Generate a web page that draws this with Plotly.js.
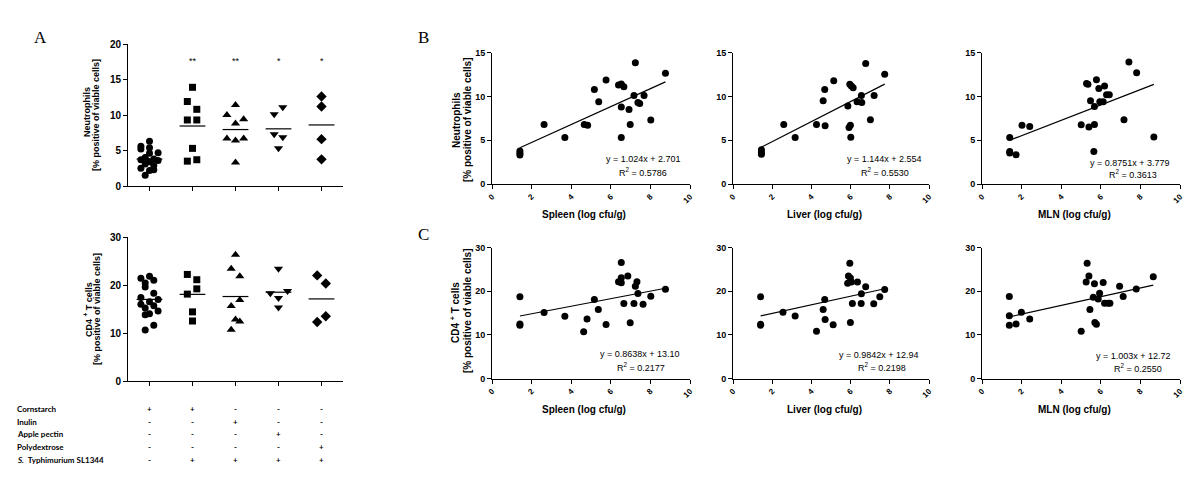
<!DOCTYPE html>
<html><head><meta charset="utf-8">
<script src="https://cdn.plot.ly/plotly-3.0.1.min.js"></script>
<style>body{margin:0;background:#fff}#chart{width:1200px;height:480px}</style>
</head><body><div id="chart"></div>
<script>
// ---------- Panel A : dot plots ----------
const groupSymbols = ['circle','square','triangle-up','triangle-down','diamond'];
const stars = ['', '**', '**', '*', '*'];

// Neutrophils (% positive of viable cells) per group, with horizontal jitter
const neuG1 = [6.3,5.6,5.4,5.2,4.7,4.6,4.0,3.8,3.7,3.6,3.4,3.1,2.9,2.5,2.3,2.2,1.5];
const neuG1Jit = [0,-0.2,0,-0.2,0.2,0,-0.1,0.1,-0.2,0.2,0,-0.1,0.1,-0.2,0.1,0,-0.1];
const neuG2 = [13.9,11.9,10.8,9.3,9.3,5.3,3.5,3.7];
const neuG2Jit = [0,-0.12,0.1,-0.12,0.1,0,-0.12,0.1];
const neuG3 = [11.4,10.0,8.8,9.4,6.7,6.4,6.7,3.3];
const neuG3Jit = [0,-0.2,0,0.19,-0.2,0,0.19,0];
const neuG4 = [11.1,10.1,7.3,6.85,5.3];
const neuG4Jit = [0.1,-0.1,-0.1,0.1,0];
const neuG5 = [12.6,11.2,6.6,3.75];
const neuG5Jit = [0,0,0,0];
const neuMeans = [3.8,8.45,7.95,8.05,8.6];

// CD4+ T cells
const cd4G1 = [21.4,21.8,21.0,20.4,19.6,18.3,17.4,17.0,16.5,16.0,15.7,15.2,14.6,14.0,13.8,11.6,10.6];
const cd4G1Jit = [-0.2,0,0.1,-0.1,-0.1,0.1,-0.2,0.2,0,-0.2,0.1,-0.1,0.2,0,-0.1,0.1,-0.1];
const cd4G2 = [22.2,21.1,19.2,18.1,14.4,12.5];
const cd4G2Jit = [-0.12,0.1,0.1,-0.12,0,0];
const cd4G3 = [26.3,23.4,21.8,16.9,15.6,12.8,12.4,10.7];
const cd4G3Jit = [0,-0.1,0.1,0.1,-0.1,0,0.1,-0.1];
const cd4G4 = [23.4,18.3,18.75,17.3,15.3];
const cd4G4Jit = [0,-0.19,0.21,0,0];
const cd4G5 = [22.0,20.3,13.5,12.3];
const cd4G5Jit = [-0.1,0.1,0.1,-0.1];
const cd4Means = [17.0,18.05,17.6,18.5,17.1];

// Treatment table
const tableRows = ['Cornstarch','Inulin','Apple pectin','Polydextrose','<i>S.</i>  Typhimurium SL1344'];
const tableSigns = [
  ['+','+','-','-','-'],
  ['-','-','+','-','-'],
  ['-','-','-','+','-'],
  ['-','-','-','-','+'],
  ['-','+','+','+','+']
];

// ---------- Panel B : neutrophils vs bacterial load ----------
const spleenX = [7.24,8.76,5.76,6.53,6.39,6.66,5.17,7.17,7.68,5.39,7.37,7.46,6.53,6.92,8.02,6.98,4.66,2.63,4.83,3.68,6.53,1.41,1.41,1.41];
const spleenNeu = [13.86,12.64,11.88,11.42,11.3,11.1,10.8,10.1,10.1,9.4,9.3,9.2,8.8,8.5,7.3,6.8,6.8,6.8,6.7,5.3,5.3,3.77,3.5,3.3];
const liverX = [6.77,7.74,5.14,5.96,6.04,6.13,4.68,6.55,7.2,4.6,6.33,6.57,5.86,7.01,2.59,4.26,4.70,5.99,5.92,3.17,6.01,1.45,1.45,1.45];
const liverNeu = [13.77,12.55,11.8,11.4,11.2,11.0,10.8,10.1,10.1,9.5,9.4,9.3,8.9,7.33,6.8,6.8,6.65,6.7,6.46,5.3,5.35,3.9,3.6,3.4];
const mlnX = [7.42,7.81,5.78,5.28,5.35,6.19,5.90,6.29,6.43,5.48,5.95,6.12,5.68,7.17,2.02,2.41,5.01,5.40,5.68,8.68,1.40,5.65,1.40,1.40,1.72];
const mlnNeu = [13.93,12.7,11.9,11.47,11.4,11.2,10.9,10.2,10.2,9.5,9.4,9.4,8.85,7.34,6.72,6.57,6.76,6.5,6.8,5.36,5.32,3.72,3.72,3.53,3.34];
const neuSlopes = [1.024,1.144,0.8751];
const neuIntercepts = [2.701,2.554,3.779];
const neuR2 = ['0.5786','0.5530','0.3613'];

// ---------- Panel C : CD4+ T cells vs bacterial load ----------
const spleenXc = [6.53,6.86,6.53,6.39,6.53,7.32,7.24,8.76,7.37,1.41,8.02,5.17,6.66,7.17,7.63,5.37,2.63,3.68,4.80,6.98,1.41,1.41,5.76,4.63];
const spleenCD4 = [26.56,23.5,23.1,22.14,21.9,22.14,21.15,20.46,19.47,18.7,18.85,18.1,17.18,17.18,17.02,15.8,15.1,14.27,13.6,12.75,12.5,12.2,12.37,10.69];
const liverXc = [5.96,5.89,5.99,5.85,6.04,6.35,6.77,7.74,6.55,1.41,7.49,4.68,6.09,6.54,7.18,4.6,2.55,3.17,4.70,5.99,1.41,1.41,5.11,4.26];
const liverCD4 = [26.4,23.5,23.0,21.8,22.1,22.1,21.0,20.4,19.4,18.7,18.7,18.1,17.2,17.2,17.1,15.8,15.15,14.3,13.5,12.8,12.4,12.2,12.3,10.8];
const mlnXc = [5.31,5.40,8.65,5.26,5.68,6.12,6.95,7.79,5.94,1.38,7.13,5.62,5.87,6.19,6.36,6.46,5.45,1.99,1.38,2.41,5.70,5.78,1.38,1.72,5.01];
const mlnCD4 = [26.4,23.5,23.3,22.1,21.7,22.0,21.1,20.5,19.5,18.8,18.8,18.6,18.2,17.25,17.25,17.25,15.8,15.2,14.35,13.6,12.8,12.4,12.2,12.5,10.8];
const cd4Slopes = [0.8638,0.9842,1.003];
const cd4Intercepts = [13.10,12.94,12.72];
const cd4R2 = ['0.2177','0.2198','0.2550'];
const cd4InterceptText = ['13.10','12.94','12.72'];
const neuInterceptText = ['2.701','2.554','3.779'];
const slopeTextNeu = ['1.024','1.144','0.8751'];
const slopeTextCd4 = ['0.8638','0.9842','1.003'];

const organTitles = ['Spleen (log cfu/g)','Liver (log cfu/g)','MLN (log cfu/g)'];

// ---------- build ----------
const W = 1200, H = 480;
const px = v => v / W, py = v => 1 - v / H;
const FONT = 'Liberation Sans, Arial, sans-serif';
const traces = [];

const neuGroups = [[neuG1,neuG1Jit],[neuG2,neuG2Jit],[neuG3,neuG3Jit],[neuG4,neuG4Jit],[neuG5,neuG5Jit]];
const cd4Groups = [[cd4G1,cd4G1Jit],[cd4G2,cd4G2Jit],[cd4G3,cd4G3Jit],[cd4G4,cd4G4Jit],[cd4G5,cd4G5Jit]];
const symSize = [7,7,8,8,8];

function dotPanel(groups, means, xa, ya) {
  groups.forEach((g, i) => {
    traces.push({type:'scatter', mode:'markers', xaxis:xa, yaxis:ya,
      x: g[1].map(j => i + j), y: g[0], cliponaxis:false,
      marker:{symbol:groupSymbols[i], color:'#000', size:symSize[i]}, hoverinfo:'skip'});
    traces.push({type:'scatter', mode:'lines', xaxis:xa, yaxis:ya,
      x:[i-0.3, i+0.3], y:[means[i], means[i]], line:{color:'#000', width:1.2}, hoverinfo:'skip'});
  });
}
dotPanel(neuGroups, neuMeans, 'x', 'y');
dotPanel(cd4Groups, cd4Means, 'x2', 'y2');

function scatPanel(xs, ys, slope, icpt, xa, ya) {
  traces.push({type:'scatter', mode:'markers', xaxis:xa, yaxis:ya, x:xs, y:ys, cliponaxis:false,
    marker:{color:'#000', size:7}, hoverinfo:'skip'});
  const lo = Math.min(...xs), hi = Math.max(...xs);
  traces.push({type:'scatter', mode:'lines', xaxis:xa, yaxis:ya, x:[lo,hi], y:[slope*lo+icpt, slope*hi+icpt],
    line:{color:'#000', width:1.2}, hoverinfo:'skip'});
}
scatPanel(spleenX, spleenNeu, neuSlopes[0], neuIntercepts[0], 'x3', 'y3');
scatPanel(liverX, liverNeu, neuSlopes[1], neuIntercepts[1], 'x4', 'y4');
scatPanel(mlnX, mlnNeu, neuSlopes[2], neuIntercepts[2], 'x5', 'y5');
scatPanel(spleenXc, spleenCD4, cd4Slopes[0], cd4Intercepts[0], 'x6', 'y6');
scatPanel(liverXc, liverCD4, cd4Slopes[1], cd4Intercepts[1], 'x7', 'y7');
scatPanel(mlnXc, mlnCD4, cd4Slopes[2], cd4Intercepts[2], 'x8', 'y8');

function axis(domain, range, anchor, extra) {
  return Object.assign({domain, range, anchor, showgrid:false, zeroline:false, showline:true,
    linecolor:'#000', linewidth:1, ticks:'outside', ticklen:4, tickcolor:'#000', tickwidth:1,
    fixedrange:true, tickfont:{family:FONT, size:9, color:'#000', weight:700}}, extra);
}
const aX = [px(128), px(343)];
const colX = [[px(492), px(690)], [px(733), px(929)], [px(982), px(1180)]];
const rowB = [py(184), py(52.7)], rowC = [py(378.5), py(247.5)];
const layout = {
  width:W, height:H, margin:{l:0,r:0,t:0,b:0}, paper_bgcolor:'#fff', plot_bgcolor:'rgba(0,0,0,0)',
  showlegend:false, font:{family:FONT, color:'#000'},
  xaxis: axis(aX, [-0.5,4.5], 'y', {tickvals:[0,1,2,3,4], showticklabels:false}),
  yaxis: axis([py(186), py(44)], [0,20], 'x', {tickvals:[0,5,10,15,20], tickfont:{family:FONT,size:10,color:'#000',weight:700}}),
  xaxis2: axis(aX, [-0.5,4.5], 'y2', {tickvals:[0,1,2,3,4], showticklabels:false}),
  yaxis2: axis([py(381), py(237)], [0,30], 'x2', {tickvals:[0,10,20,30], tickfont:{family:FONT,size:10,color:'#000',weight:700}}),
  annotations: [], 
};
const xTick = {tickvals:[0,2,4,6,8,10], tickangle:-45, tickfont:{family:FONT,size:8,color:'#000',weight:700}};
for (let c = 0; c < 3; c++) {
  const nB = 3 + c, nC = 6 + c;
  layout['xaxis'+nB] = axis(colX[c], [0,10], 'y'+nB, xTick);
  layout['yaxis'+nB] = axis(rowB, [0,15], 'x'+nB, {tickvals:[0,5,10,15]});
  layout['xaxis'+nC] = axis(colX[c], [0,10], 'y'+nC, xTick);
  layout['yaxis'+nC] = axis(rowC, [0,30], 'x'+nC, {tickvals:[0,10,20,30]});
}

const A = layout.annotations;
function ann(text, x, y, o) {
  A.push(Object.assign({text, x:px(x), y:py(y), xref:'paper', yref:'paper', showarrow:false,
    xanchor:'center', yanchor:'middle', font:{family:FONT, size:9, color:'#000'}}, o || {}));
}
const bold = s => ({family:FONT, size:s, color:'#000', weight:700});

// panel letters
ann('A', 40, 38, {font:{family:'Liberation Serif, Times New Roman, serif', size:17, color:'#000'}});
ann('B', 423, 38, {font:{family:'Liberation Serif, Times New Roman, serif', size:17, color:'#000'}});
ann('C', 423, 234, {font:{family:'Liberation Serif, Times New Roman, serif', size:17, color:'#000'}});

// stars
stars.forEach((s, i) => { if (s) A.push({text:s, x:i, y:17.6, xref:'x', yref:'y', showarrow:false,
  font:{family:FONT, size:9, color:'#000'}}); });

// y titles panel A
ann('Neutrophils', 87, 112, {textangle:-90, font:bold(9)});
ann('[% positive of viable cells]', 96, 115, {textangle:-90, font:bold(9)});
ann('CD4 <sup>+</sup> T cells', 88, 310, {textangle:-90, font:bold(9)});
ann('[% positive of viable cells]', 97, 309, {textangle:-90, font:bold(9)});

// y titles panels B, C
ann('Neutrophils', 456, 120, {textangle:-90, font:bold(10)});
ann('[% positive of viable cells]', 467, 120, {textangle:-90, font:bold(10)});
ann('CD4 <sup>+</sup> T cells', 455, 313, {textangle:-90, font:bold(10)});
ann('[% positive of viable cells]', 467, 311, {textangle:-90, font:bold(10)});

// x titles
const titleX = [584, 824, 1074];
organTitles.forEach((t, c) => { ann(t, titleX[c], 214, {font:bold(10)}); ann(t, titleX[c], 409, {font:bold(10)}); });

// equations
const eqB = [[643,159,643,172],[884,159,885,172],[1130,163,1133,174]];
const eqC = [[640,354,641,367],[879,355,882,367],[1133,356,1138,368]];
for (let c = 0; c < 3; c++) {
  ann('y = ' + slopeTextNeu[c] + 'x + ' + neuInterceptText[c], eqB[c][0], eqB[c][1]);
  ann('R<sup>2</sup> = ' + neuR2[c], eqB[c][2], eqB[c][3]);
  ann('y = ' + slopeTextCd4[c] + 'x + ' + cd4InterceptText[c], eqC[c][0], eqC[c][1]);
  ann('R<sup>2</sup> = ' + cd4R2[c], eqC[c][2], eqC[c][3]);
}

// treatment table
const rowY = [409, 422, 434, 447, 460];
const TF = {family:'Lato, Open Sans, sans-serif', size:8, color:'#000', weight:700};
tableRows.forEach((r, k) => {
  ann(r, 15, rowY[k], {xanchor:'left', font:TF});
  tableSigns[k].forEach((s, i) => A.push({text:s, x:i, y:py(rowY[k]), xref:'x', yref:'paper',
    showarrow:false, yanchor:'middle', font:TF}));
});

Plotly.newPlot('chart', traces, layout, {displayModeBar:false, staticPlot:true});
</script></body></html>
